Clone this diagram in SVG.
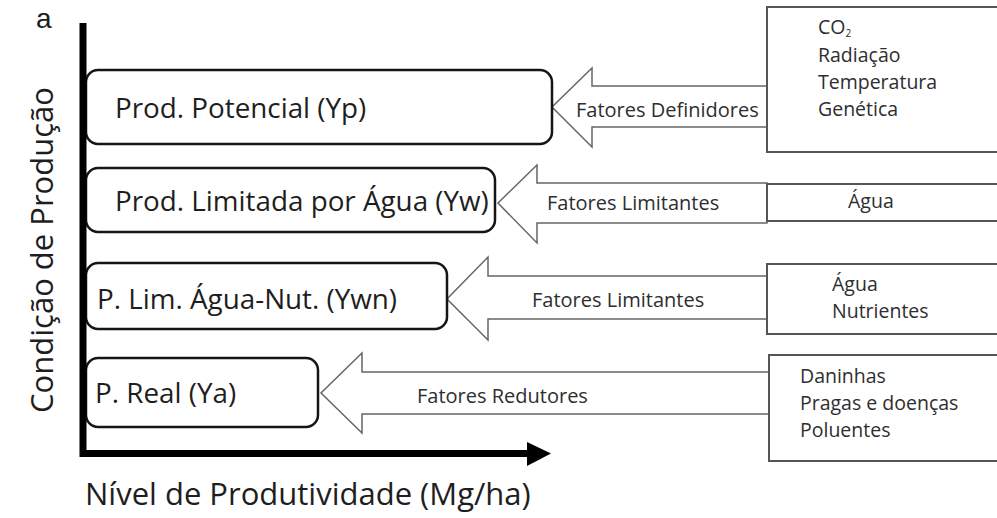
<svg xmlns="http://www.w3.org/2000/svg" width="997" height="518" viewBox="0 0 997 518">
<style>
  .main { fill: #ffffff; stroke: #151515; stroke-width: 2.5; }
  .side { fill: #ffffff; stroke: #555555; stroke-width: 2; }
  .arrow { fill: #ffffff; stroke: #666666; stroke-width: 1.5; stroke-linejoin: miter; }
  .axis { stroke: #000000; stroke-width: 7; fill: none; }
  .lbl { font-family: "Open Sans", "Noto Sans", sans-serif; font-size: 27.8px; fill: #1e1e1e; }
  .sm { font-family: "Open Sans", "Noto Sans", sans-serif; font-size: 20px; fill: #2e2e2e; }
  .ls { font-family: "Open Sans", "Noto Sans", sans-serif; font-size: 19.5px; fill: #2e2e2e; }
  .ax { font-family: "Open Sans", "Noto Sans", sans-serif; font-size: 31px; fill: #1e1e1e; }
</style>
<rect x="0" y="0" width="997" height="518" fill="#ffffff"/>

<text x="36" y="28" font-family="Liberation Sans, Arial, sans-serif" font-size="28" fill="#1e1e1e">a</text>

<g id="connectors">
  <polygon class="arrow" points="767,86 592,86 592,68 552,107 592,147 592,127 767,127"/>
  <polygon class="arrow" points="767,183 537,183 537,165 498,203 537,243 537,223 767,223"/>
  <polygon class="arrow" points="767,276 488,276 488,257 447,299 488,340 488,319 767,319"/>
  <polygon class="arrow" points="769,372 362,372 362,353 321,393 362,433 362,414 769,414"/>
  <text class="sm" x="576" y="117">Fatores Definidores</text>
  <text class="sm" x="547" y="210">Fatores Limitantes</text>
  <text class="sm" x="532" y="307">Fatores Limitantes</text>
  <text class="sm" x="417" y="403">Fatores Redutores</text>
</g>

<g id="node-yp">
  <rect class="main" x="86" y="70" width="466" height="74" rx="12"/>
  <text class="lbl" x="115" y="118">Prod. Potencial (Yp)</text>
</g>
<g id="node-yw">
  <rect class="main" x="86" y="168" width="409" height="64" rx="12"/>
  <text class="lbl" x="115" y="211">Prod. Limitada por Água (Yw)</text>
</g>
<g id="node-ywn">
  <rect class="main" x="86" y="263" width="361" height="66" rx="12"/>
  <text class="lbl" x="97" y="309">P. Lim. Água-Nut. (Ywn)</text>
</g>
<g id="node-ya">
  <rect class="main" x="86" y="358" width="232" height="69" rx="12"/>
  <text class="lbl" x="95" y="403">P. Real (Ya)</text>
</g>

<g id="factors-def">
  <rect class="side" x="767" y="7" width="250" height="145"/>
  <text class="ls" x="818" y="34" font-size="15">CO<tspan font-size="10" dy="3">2</tspan></text>
  <text class="ls" x="818" y="62">Radiação</text>
  <text class="ls" x="818" y="89">Temperatura</text>
  <text class="ls" x="818" y="116">Genética</text>
</g>
<g id="factors-water">
  <rect class="side" x="767" y="184" width="250" height="37"/>
  <text class="ls" x="848" y="208" font-size="17">Água</text>
</g>
<g id="factors-lim">
  <rect class="side" x="767" y="264" width="250" height="70"/>
  <text class="ls" x="832" y="291">Água</text>
  <text class="ls" x="832" y="318">Nutrientes</text>
</g>
<g id="factors-red">
  <rect class="side" x="769" y="355" width="250" height="106"/>
  <text class="ls" x="800" y="383">Daninhas</text>
  <text class="ls" x="800" y="410">Pragas e doenças</text>
  <text class="ls" x="800" y="437">Poluentes</text>
</g>

<g id="axes">
  <line class="axis" x1="83" y1="23" x2="83" y2="457"/>
  <line class="axis" x1="80" y1="453.5" x2="529" y2="453.5"/>
  <polygon points="527,442 551,453.5 527,466" fill="#000000"/>
  <text class="ax" x="53" y="250" text-anchor="middle" font-size="30" transform="rotate(-90 53 250)">Condição de Produção</text>
  <text class="ax" x="85" y="505">Nível de Produtividade (Mg/ha)</text>
</g>
</svg>
